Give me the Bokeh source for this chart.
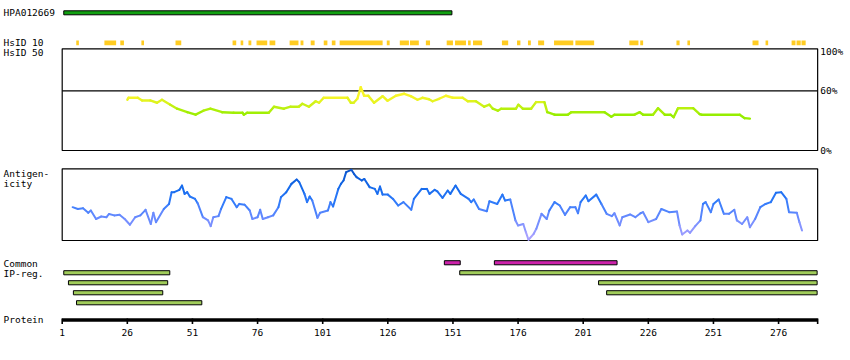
from bokeh.plotting import figure
from bokeh.models import Range1d, ColumnDataSource
from bokeh.embed import file_html
from bokeh.resources import INLINE
from bokeh.core.properties import value

# ---------------- data ----------------
PROTEIN_LEN = 291
hpa_name = "HPA012669"
hpa_start = [1.6]
hpa_end = [150.6]

hsid10_start = [6.4, 17.2, 23.3, 31.4, 44.5, 66.4, 69.5, 72.5, 75.6, 80.6, 88.3, 92.5, 96.4,
                101.4, 104.5, 107.5, 125.6, 130.6, 134.5, 140.6, 148.6, 151.8, 156.8, 158.7,
                169.8, 175.6, 179.8, 183.7, 189.8, 198.0, 218.7, 222.9, 236.8, 241.0, 266.0,
                271.0, 281.0, 282.9, 284.8]
hsid10_end = [7.4, 21.7, 24.7, 32.4, 46.7, 67.8, 70.5, 73.6, 79.7, 82.8, 91.7, 93.6, 97.9,
              102.8, 105.9, 124.0, 126.7, 134.1, 137.9, 142.2, 151.0, 156.0, 157.8, 162.2,
              172.2, 176.9, 180.9, 186.0, 197.2, 205.2, 222.2, 224.0, 238.0, 242.0, 268.3,
              272.0, 282.5, 284.5, 286.4]

hsid50_pos = [26, 26.5, 30, 31.7, 34.8, 37.4, 39.3, 42.5, 45.1, 49, 52.2, 55.2, 57.9, 62.4,
              66.8, 70.2, 70.7, 72, 80.3, 82.3, 86.1, 88.7, 91.8, 93.2, 95.7, 98.3, 99.6,
              101.4, 110.5, 111.8, 112.9, 114.3, 115.6, 116.9, 118.5, 120.7, 124, 125.9,
              129.1, 132.3, 134.8, 137.4, 139.3, 141.8, 143.2, 145.7, 148.3, 150.9, 154.7,
              156.7, 159.8, 163, 165, 166.3, 168.2, 169.5, 175.2, 176.1, 177.8, 181, 182.9,
              186.1, 187.2, 190, 195.1, 196.4, 209.2, 211.8, 213, 220.7, 222.7, 224, 227.8,
              229.7, 232.3, 234.5, 235.7, 237.4, 243.2, 245.7, 246.4, 261.1, 263, 265]
hsid50_pct = [51, 53, 53, 50.3, 50.3, 48, 51, 46, 42, 38.5, 36, 40, 42, 38.5,
              38, 38, 36, 38, 38, 44, 42, 44, 44, 47, 44, 49.5, 48,
              53, 53, 48, 48, 52, 63.6, 55, 55, 48, 54.6, 50,
              55, 57, 54.6, 51, 53, 51.5, 49.5, 52, 55, 53, 53,
              49.5, 49.5, 44, 46, 42, 40, 42, 42, 46, 42, 42, 48.6,
              48.6, 38.5, 36, 36, 38.5, 38.5, 34, 36, 36, 38.5, 36, 36,
              42.5, 36, 36, 33.5, 42.5, 42.5, 36.5, 36, 36, 32.5, 32]

antigen_pos = [5, 7, 9, 11, 12, 14, 16, 18, 19, 21, 23, 25, 27, 29, 31, 33, 35, 36, 37, 40,
               42, 43, 44, 46, 47, 48, 49, 50, 52, 53, 55, 57, 58, 59, 61, 62, 64, 66, 68,
               69, 71, 73, 74, 76, 77, 78, 80, 82, 84, 85, 87, 89, 91, 92, 94, 95, 96, 97,
               99, 100, 103, 104, 105, 107, 108, 109, 110, 112, 113, 114, 116, 117, 119,
               121, 122, 123, 124, 126, 128, 130, 132, 135, 136, 139, 141, 142, 144, 145,
               147, 149, 150, 152, 154, 157, 158, 159, 161, 164, 165, 168, 170, 171, 173,
               175, 176, 178, 179, 180, 182, 183, 185, 187, 188, 190, 192, 194, 196, 198,
               199, 200, 202, 203, 206, 208, 210, 212, 213, 215, 216, 219, 221, 223, 224,
               226, 229, 231, 234, 237, 238, 239, 241, 242, 244, 246, 247, 248, 250, 251,
               253, 255, 257, 259, 260, 262, 264, 265, 267, 269, 271, 273, 275, 277, 279,
               280, 283, 284, 285]
antigen_val = [46.5, 44, 45, 38.6, 41.8, 30, 33.5, 32.5, 37, 35, 35.8, 30, 22, 32.5, 35, 42.8,
               23, 38.6, 25.6, 44, 51, 67.4, 67.4, 70.7, 76.7, 65, 67.4, 61.4, 58, 52, 32.5,
               28, 20, 32.5, 34, 44, 60.5, 58, 46.5, 51, 50, 41.8, 30, 32.5, 42.8, 30, 32.5,
               35, 46.5, 60.5, 67.4, 79, 85, 81.4, 65, 53.5, 61.4, 55.8, 31.6, 38.6, 41.8,
               53.5, 47.4, 72, 79, 83.7, 95.3, 98.6, 93, 88.3, 83.7, 85.8, 74.4, 72, 65,
               75.3, 64, 64, 58, 48.8, 53.5, 42.8, 58, 72, 72, 65, 70.7, 68.4, 59.5, 69.7,
               65, 76.7, 65, 58, 53.5, 57.2, 44, 40.9, 54.8, 51, 64, 55.8, 57.2, 28, 21, 23,
               11.6, 1, 9.3, 16.3, 37.2, 30, 41.8, 53.5, 48.8, 35.8, 46.5, 46.5, 38, 53.5,
               62.8, 54.8, 64, 51, 37.2, 34, 38, 21, 32.5, 36.3, 32.5, 38, 39.5, 25.6, 30,
               44, 39.5, 40.5, 21, 8.4, 14, 10.7, 20, 28, 51, 53.5, 39.5, 51, 57.2, 37.2,
               37.2, 42.8, 28, 23, 32.5, 18.6, 30, 46.5, 51, 53.5, 66.5, 67.4, 58, 39.5,
               38.6, 25.6, 14]

common_start = [147.7, 166.9]
common_end = [153.8, 214.0]

ip_start = [1.6, 3.4, 5.3, 6.5, 153.6, 206.9, 210.0]
ip_end = [42.3, 41.5, 39.6, 54.6, 290.8, 290.8, 290.8]
ip_row = [0, 1, 2, 3, 0, 1, 2]

tick_values = [1, 26, 51, 76, 101, 126, 151, 176, 201, 226, 251, 276]
pct_ticks = [100, 60, 0]
pct_labels = ["100%", "60%", "0%"]

# ---------------- layout constants (page pixels) ----------------
W, H = 850, 360
PX0, SCALE = 61.7, 2.605          # page x of residue 1, px per residue
x_start = 1 + (0 - PX0) / SCALE
x_end = 1 + (W - PX0) / SCALE
PCT_ZERO, PCT_K = 150.0, 0.995    # page y of 0%, px per %
AG_ZERO, AG_K = 240.0, 0.717      # page y of antigenicity 0, px per unit

p = figure(width=W, height=H, output_backend="svg", toolbar_location=None,
           x_axis_location=None, y_axis_location=None,
           x_range=Range1d(x_start, x_end), y_range=Range1d(H, 0),
           min_border=0, min_border_left=0, min_border_right=0,
           min_border_top=0, min_border_bottom=0)
p.outline_line_color = None
p.grid.visible = False
p.background_fill_color = "white"
p.border_fill_color = "white"
p.extra_y_ranges = {
    "pct": Range1d(-(H - PCT_ZERO) / PCT_K, PCT_ZERO / PCT_K),
    "ag": Range1d(-(H - AG_ZERO) / AG_K, AG_ZERO / AG_K),
}

FONT = value("DejaVu Sans Mono")
FS = "9.5px"

# ---------------- HPA bar ----------------
p.quad(left=hpa_start, right=hpa_end, top=10.3, bottom=14.3,
       fill_color="#11a011", line_color="black", line_width=1)

# ---------------- HsID 10 ----------------
p.quad(left=hsid10_start, right=hsid10_end, top=40, bottom=44.7,
       fill_color="#ffcc22", line_color=None)

# ---------------- HsID 50 panel ----------------
p.quad(left=[1], right=[PROTEIN_LEN], bottom=[0], top=[102.2], y_range_name="pct",
       fill_color=None, line_color="black", line_width=1.2)
p.segment(x0=[1], x1=[PROTEIN_LEN], y0=[60], y1=[60], y_range_name="pct",
          line_color="black", line_width=1.2)


def hs_color(v):
    t = min(max((v - 36.0) / (54.0 - 36.0), 0.0), 1.0)
    lo, hi = (150, 238, 0), (248, 245, 40)
    return "#%02x%02x%02x" % tuple(int(round(a + (b - a) * t)) for a, b in zip(lo, hi))


hs = dict(x0=hsid50_pos[:-1], x1=hsid50_pos[1:], y0=hsid50_pct[:-1], y1=hsid50_pct[1:],
          c=[hs_color((a + b) / 2) for a, b in zip(hsid50_pct[:-1], hsid50_pct[1:])])
p.segment(x0="x0", x1="x1", y0="y0", y1="y1", color="c", line_width=2.4,
          line_cap="round", y_range_name="pct", source=ColumnDataSource(hs))

p.text(x=[PROTEIN_LEN + 1.0] * 3, y=pct_ticks, text=pct_labels, y_range_name="pct",
       text_font=FONT, text_font_size=FS, text_baseline="middle", text_align="left",
       text_color="black", y_offset=0)

# ---------------- Antigenicity panel ----------------
p.quad(left=[1], right=[PROTEIN_LEN], bottom=[0], top=[100], y_range_name="ag",
       fill_color=None, line_color="black", line_width=1.2)

AG_STOPS = [(0, (180, 165, 255)), (30, (110, 140, 255)), (55, (45, 122, 250)),
            (75, (20, 105, 235)), (100, (10, 82, 200))]


def ag_color(v):
    for (v0, c0), (v1, c1) in zip(AG_STOPS[:-1], AG_STOPS[1:]):
        if v <= v1:
            t = min(max((v - v0) / (v1 - v0), 0.0), 1.0)
            return "#%02x%02x%02x" % tuple(int(round(a + (b - a) * t)) for a, b in zip(c0, c1))
    return "#%02x%02x%02x" % AG_STOPS[-1][1]


ag = dict(x0=antigen_pos[:-1], x1=antigen_pos[1:], y0=antigen_val[:-1], y1=antigen_val[1:],
          c=[ag_color((a + b) / 2) for a, b in zip(antigen_val[:-1], antigen_val[1:])])
p.segment(x0="x0", x1="x1", y0="y0", y1="y1", color="c", line_width=2.0,
          line_cap="round", y_range_name="ag", source=ColumnDataSource(ag))

# ---------------- Common IP-reg ----------------
p.quad(left=common_start, right=common_end, top=260.2, bottom=264.3,
       fill_color="#cc22aa", line_color="black", line_width=1)

ROW_TOP = [270.2, 280.2, 290.2, 300.2]
p.quad(left=ip_start, right=ip_end,
       top=[ROW_TOP[r] for r in ip_row], bottom=[ROW_TOP[r] + 4.1 for r in ip_row],
       fill_color="#a0cc5a", line_color="black", line_width=1)

# ---------------- Protein axis ----------------
p.segment(x0=[1], x1=[PROTEIN_LEN], y0=[319.5], y1=[319.5], line_color="black", line_width=3.5)
all_ticks = tick_values + [PROTEIN_LEN]
p.segment(x0=all_ticks, x1=all_ticks, y0=[318] * len(all_ticks), y1=[323.5] * len(all_ticks),
          line_color="black", line_width=1.6)
p.text(x=tick_values, y=[331.8] * len(tick_values), text=[str(t) for t in tick_values],
       text_font=FONT, text_font_size=FS, text_align="center", text_baseline="alphabetic",
       text_color="black")

# ---------------- left labels ----------------
left_texts = [hpa_name, "HsID 10", "HsID 50", "Antigen-", "icity", "Common", "IP-reg.", "Protein"]
left_base = [12.4, 42.0, 52.0, 172.8, 182.8, 262.8, 273.0, 319.4]
p.text(x=[x_start] * len(left_texts), y=left_base, text=left_texts, x_offset=3,
       text_font=FONT, text_font_size=FS, text_align="left", text_baseline="alphabetic",
       text_color="black")

open("out.html", "w").write(file_html(p, INLINE))
